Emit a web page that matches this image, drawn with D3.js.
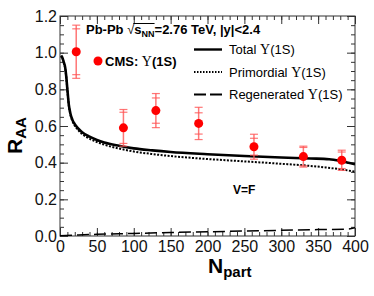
<!DOCTYPE html>
<html><head><meta charset="utf-8">
<script src="https://cdn.jsdelivr.net/npm/d3@7"></script>
<style>body{margin:0;background:#fff;} svg{display:block;}</style>
</head><body>
<svg id="c" width="374" height="296"></svg>
<script>
// ---- data ----
const totalN = [1.5,3,5,7,8.5,10,12,14,17,20,25,30,40,50,60,80,100,125,150,200,250,300,340,365,382,400];
const totalR = [0.985,0.975,0.95,0.92,0.87,0.80,0.715,0.67,0.632,0.61,0.585,0.566,0.542,0.524,0.51,0.492,0.478,0.467,0.458,0.446,0.436,0.428,0.423,0.419,0.408,0.392];
const primN = [1.5,3,5,7,8.5,10,12,14,17,20,25,30,40,50,60,80,100,125,150,200,250,300,340,360,380,400];
const primR = [0.98,0.97,0.945,0.915,0.865,0.795,0.71,0.664,0.625,0.602,0.576,0.556,0.531,0.513,0.498,0.477,0.461,0.447,0.436,0.420,0.407,0.394,0.382,0.374,0.364,0.351];
const regenN = [0,25,50,100,150,200,250,300,350,390,400];
const regenR = [0.001,0.006,0.009,0.014,0.019,0.023,0.027,0.031,0.035,0.038,0.045];
const cmsN = [22,86,130,188,263,330,382];
const cmsR = [1.005,0.59,0.684,0.614,0.487,0.433,0.413];
const cmsErrA = [0.145,0.10,0.093,0.088,0.068,0.057,0.055];
const cmsErrB = [0.125,0.085,0.069,0.058,0.046,0.050,0.045];
const xMajor = [0,50,100,150,200,250,300,350,400];
const yMajor = [0,0.2,0.4,0.6,0.8,1.0,1.2];
const legendLabels = ["Total ", "Primordial ", "Regenerated "];

// ---- setup ----
const SANS = "'Liberation Sans', Arial, Helvetica, sans-serif";
const SERIF = "'Liberation Serif', 'Times New Roman', serif";
const x = d3.scaleLinear().domain([0,400]).range([60,355]);
const y = d3.scaleLinear().domain([0,1.2]).range([236,16]);
const svg = d3.select('#c');
const [x0,x1] = x.range(), [y0,y1] = y.range();

svg.append('defs').append('clipPath').attr('id','clip')
  .append('rect').attr('x',x0).attr('y',y1).attr('width',x1-x0).attr('height',y0-y1);

// ---- axes ----
function styleAxis(g){ g.select('.domain').remove(); g.selectAll('line').attr('stroke','#333'); g.selectAll('text').attr('font-family',SANS).attr('font-size',16).attr('fill','#111'); }
svg.append('g').attr('transform',`translate(0,${y0})`).call(d3.axisBottom(x).tickValues(xMajor).tickSize(-8).tickPadding(5).tickFormat(d3.format('d'))).call(styleAxis);
svg.append('g').attr('transform',`translate(0,${y0})`).call(d3.axisBottom(x).tickValues(d3.range(0,401,10)).tickSize(-4).tickFormat('')).call(styleAxis);
svg.append('g').attr('transform',`translate(0,${y1})`).call(d3.axisTop(x).tickValues(xMajor).tickSize(-8).tickFormat('')).call(styleAxis);
svg.append('g').attr('transform',`translate(0,${y1})`).call(d3.axisTop(x).tickValues(d3.range(0,401,10)).tickSize(-4).tickFormat('')).call(styleAxis);
svg.append('g').attr('transform',`translate(${x0},0)`).call(d3.axisLeft(y).tickValues(yMajor).tickSize(-8).tickPadding(3).tickFormat(d3.format('.1f'))).call(styleAxis);
svg.append('g').attr('transform',`translate(${x0},0)`).call(d3.axisLeft(y).tickValues(d3.range(0,1.201,0.05)).tickSize(-4).tickFormat('')).call(styleAxis);
svg.append('g').attr('transform',`translate(${x1},0)`).call(d3.axisRight(y).tickValues(yMajor).tickSize(-8).tickFormat('')).call(styleAxis);
svg.append('g').attr('transform',`translate(${x1},0)`).call(d3.axisRight(y).tickValues(d3.range(0,1.201,0.05)).tickSize(-4).tickFormat('')).call(styleAxis);
svg.append('rect').attr('x',x0).attr('y',y1).attr('width',x1-x0).attr('height',y0-y1).attr('fill','none').attr('stroke','#333').attr('stroke-width',1);

// ---- curves ----
const line = d3.line().x(d=>x(d[0])).y(d=>y(d[1])).curve(d3.curveMonotoneX);
const plot = svg.append('g').attr('clip-path','url(#clip)');
plot.append('path').datum(d3.zip(regenN,regenR)).attr('d',line).attr('fill','none').attr('stroke','#000').attr('stroke-width',1.5).attr('stroke-dasharray','12,5');
plot.append('path').datum(d3.zip(primN,primR)).attr('d',line).attr('fill','none').attr('stroke','#000').attr('stroke-width',2).attr('stroke-dasharray','2,1.5');
plot.append('path').datum(d3.zip(totalN,totalR)).attr('d',line).attr('fill','none').attr('stroke','#000').attr('stroke-width',2.6);

// ---- data points ----
const ec = '#ff5555';
cmsN.forEach((n,i)=>{
  const cx = x(n);
  [cmsErrA[i], cmsErrB[i]].forEach(e=>{
    [cmsR[i]+e, cmsR[i]-e].forEach(v=>{
      plot.append('line').attr('x1',cx-4).attr('x2',cx+4).attr('y1',y(v)).attr('y2',y(v)).attr('stroke',ec).attr('stroke-width',1.2).attr('opacity',0.8);
    });
  });
  const e = Math.max(cmsErrA[i],cmsErrB[i]);
  plot.append('line').attr('x1',cx).attr('x2',cx).attr('y1',y(cmsR[i]+e)).attr('y2',y(cmsR[i]-e)).attr('stroke',ec).attr('stroke-width',1.5).attr('opacity',0.8);
  plot.append('circle').attr('cx',cx).attr('cy',y(cmsR[i])).attr('r',4.5).attr('fill','#ff0000');
});

// ---- title ----
const title = svg.append('text').attr('x',86).attr('y',34).attr('font-family',SANS).attr('font-weight','bold').attr('font-size',13).attr('fill','#000');
title.append('tspan').text('Pb-Pb ');
title.append('tspan').attr('font-weight','normal').text('\u221A');
const sT = title.append('tspan').text('s');
const nnT = title.append('tspan').attr('font-size',9).attr('dy',3).text('NN');
title.append('tspan').attr('dy',-3).text('=2.76 TeV, |y|<2.4');
const b1 = sT.node().getBBox(), b2 = nnT.node().getBBox();
svg.append('line').attr('x1',b1.x-1).attr('x2',b2.x+b2.width).attr('y1',23.5).attr('y2',23.5).attr('stroke','#000').attr('stroke-width',1);

// ---- CMS legend ----
svg.append('circle').attr('cx',98).attr('cy',61).attr('r',4.5).attr('fill','#ff0000');
const cms = svg.append('text').attr('x',105).attr('y',66).attr('font-family',SANS).attr('font-weight','bold').attr('font-size',13);
cms.append('tspan').text('CMS: ');
cms.append('tspan').attr('font-family',SERIF).attr('font-weight','normal').attr('font-size',14).text('\u03A5');
cms.append('tspan').text('(1S)');

// ---- line legend ----
const legY = [49.5, 72, 94.5];
const legStyles = [{w:2.4,d:null},{w:1.8,d:'1.5,1.5'},{w:1.8,d:'12,4'}];
legendLabels.forEach((lab,i)=>{
  const l = svg.append('line').attr('x1',194).attr('x2',222).attr('y1',legY[i]).attr('y2',legY[i]).attr('stroke','#000').attr('stroke-width',legStyles[i].w);
  if(legStyles[i].d) l.attr('stroke-dasharray',legStyles[i].d);
  const t = svg.append('text').attr('x',229).attr('y',legY[i]+4.5).attr('font-family',SANS).attr('font-size',13);
  t.append('tspan').text(lab);
  t.append('tspan').attr('font-family',SERIF).attr('font-size',14).text('\u03A5');
  t.append('tspan').text('(1S)');
});

// ---- V=F ----
svg.append('text').attr('x',233).attr('y',194).attr('font-family',SANS).attr('font-weight','bold').attr('font-size',12).text('V=F');

// ---- axis titles ----
const xt = svg.append('text').attr('x',208).attr('y',273).attr('font-family',SANS).attr('font-weight','bold');
xt.append('tspan').attr('font-size',21).text('N');
xt.append('tspan').attr('font-size',15).attr('dy',4).text('part');
const yt = svg.append('text').attr('transform','translate(22,154) rotate(-90)').attr('font-family',SANS).attr('font-weight','bold');
yt.append('tspan').attr('font-size',21).text('R');
yt.append('tspan').attr('font-size',15).attr('dy',4).text('AA');
</script>
</body></html>
